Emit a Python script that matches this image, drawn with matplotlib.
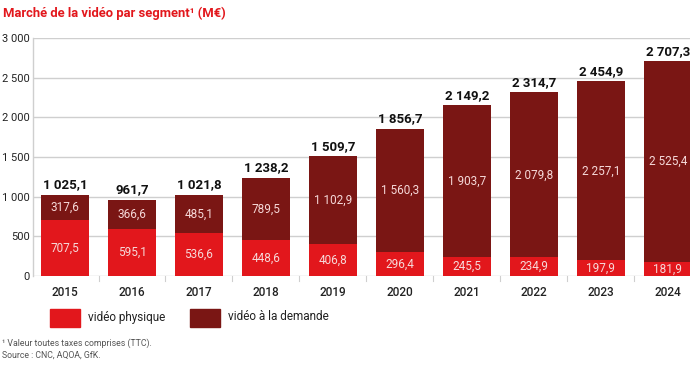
import matplotlib
matplotlib.use("Agg")
import matplotlib.pyplot as plt
from matplotlib.patches import Rectangle

plt.rcParams['font.family'] = ['Roboto', 'DejaVu Sans']

years = ["2015", "2016", "2017", "2018", "2019", "2020", "2021", "2022", "2023", "2024"]
physique = [707.5, 595.1, 536.6, 448.6, 406.8, 296.4, 245.5, 234.9, 197.9, 181.9]
demande = [317.6, 366.6, 485.1, 789.5, 1102.9, 1560.3, 1903.7, 2079.8, 2257.1, 2525.4]
totaux = [1025.1, 961.7, 1021.8, 1238.2, 1509.7, 1856.7, 2149.2, 2314.7, 2454.9, 2707.3]
yticks = [0, 500, 1000, 1500, 2000, 2500, 3000]

RED = "#e2171c"
DARK = "#7a1614"
GRID = "#cfcfcf"
LABEL = "#f6d9d9"

def fr(v):
    s = f"{v:,.1f}".replace(",", " ").replace(".", ",")
    return s

def fr_int(v):
    return f"{v:,.0f}".replace(",", " ")

fig = plt.figure(figsize=(7.0, 3.69), dpi=100)
ax = fig.add_axes([33/700, 1-276/369, (690-33)/700, (276-38)/369])

x = list(range(len(years)))
w = 0.72
ax.bar(x, physique, width=w, color=RED, zorder=3)
ax.bar(x, demande, bottom=physique, width=w, color=DARK, zorder=3)

for i in x:
    p, d, t = physique[i], demande[i], totaux[i]
    ax.text(i, p/2, fr(p), ha='center', va='center', color=LABEL, fontsize=8.5, zorder=4)
    ax.text(i, p + d/2, fr(d), ha='center', va='center', color=LABEL, fontsize=8.5, zorder=4)
    ax.text(i, t + 45, fr(t), ha='center', va='bottom', color='#111111', fontsize=9.5, fontweight='bold', zorder=4)

ax.set_xlim(-0.478, 9.33)
ax.set_ylim(0, 3000)
ax.set_yticks(yticks)
ax.set_yticklabels([fr_int(v) for v in yticks], fontsize=8, color='#222222')
ax.yaxis.grid(True, color=GRID, linewidth=1, zorder=0)
ax.tick_params(axis='y', length=0, pad=2.5)
ax.set_xticks(x)
ax.set_xticklabels(years, fontsize=8.5, color='#222222', fontweight='medium')
ax.tick_params(axis='x', length=0, pad=7)
for sp in ['top', 'right', 'bottom']:
    ax.spines[sp].set_visible(False)
ax.spines['left'].set_color(GRID)
ax.spines['left'].set_linewidth(1)
# small separators between bars at the baseline
for i in range(len(years) - 1):
    ax.plot([i + 0.5, i + 0.5], [0, -60], color=GRID, lw=0.8, clip_on=False, zorder=1)

fig.text(3/700, 1-13/369, "Marché de la vidéo par segment¹ (M€)", color=RED,
         fontsize=9.4, fontweight='bold', ha='left', va='center')

# legend
fig.patches.append(Rectangle((50/700, 1-327/369), 30/700, 18/369, transform=fig.transFigure, color=RED))
fig.text(88/700, 1-317/369, "vidéo physique", fontsize=8.5, color='#222222', va='center')
fig.patches.append(Rectangle((190/700, 1-327/369), 30/700, 18/369, transform=fig.transFigure, color=DARK))
fig.text(228/700, 1-317/369, "vidéo à la demande", fontsize=8.5, color='#222222', va='center')

fig.text(2/700, 1-343/369, "¹ Valeur toutes taxes comprises (TTC).", fontsize=6.3, color='#555555', va='center')
fig.text(2/700, 1-355/369, "Source : CNC, AQOA, GfK.", fontsize=6.3, color='#555555', va='center')

fig.savefig("out.png", dpi=100)
